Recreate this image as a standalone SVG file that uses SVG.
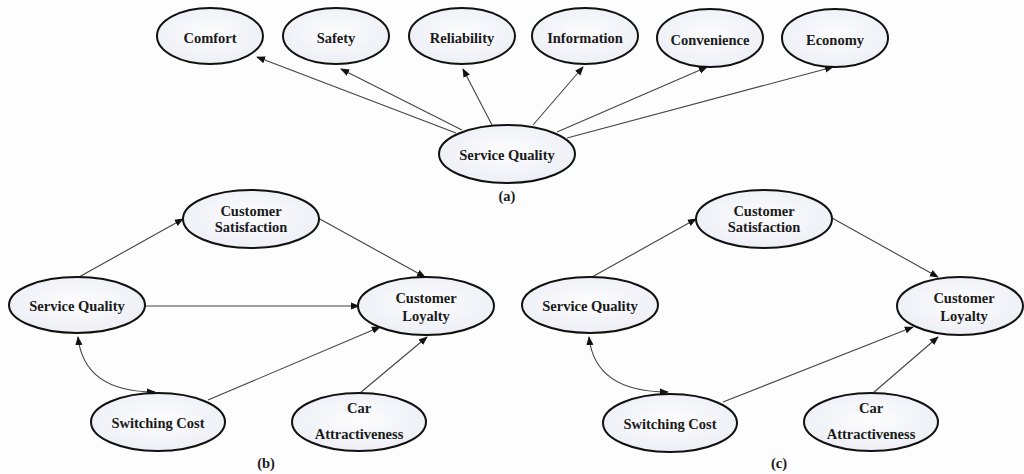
<svg xmlns="http://www.w3.org/2000/svg" width="1024" height="474" viewBox="0 0 1024 474">
  <defs>
    <radialGradient id="nodeFill" cx="50%" cy="45%" r="60%">
      <stop offset="0" stop-color="#fdfdfe"/>
      <stop offset="1" stop-color="#eceef5"/>
    </radialGradient>
    <marker id="arrow" viewBox="0 0 10 10" refX="9" refY="5" markerWidth="9" markerHeight="9" markerUnits="userSpaceOnUse" orient="auto">
      <path d="M0,1 L10,5 L0,9 z" fill="#111"/>
    </marker>
    <marker id="arrowStart" viewBox="0 0 10 10" refX="1" refY="5" markerWidth="9" markerHeight="9" markerUnits="userSpaceOnUse" orient="auto">
      <path d="M10,1 L0,5 L10,9 z" fill="#111"/>
    </marker>
  </defs>
  <style>
    .node ellipse { fill: url(#nodeFill); stroke: #111; stroke-width: 2; }
    .node text, .caption { font-family: 'Liberation Serif', 'Times New Roman', serif; font-weight: bold; font-size: 14.5px; fill: #1a1a1a; text-anchor: middle; }
    .edge { fill: none; stroke: #444; stroke-width: 1.1; }
    .arr { marker-end: url(#arrow); }
    .both { marker-start: url(#arrowStart); marker-end: url(#arrow); }
  </style>
  <rect width="1024" height="474" fill="#fdfdfd"/>

  <!-- connectors -->
  <g id="connectors">
    <!-- (a) service quality dimensions -->
    <line class="edge arr" x1="456" y1="133" x2="257" y2="57"/>
    <line class="edge arr" x1="462" y1="130" x2="341" y2="69"/>
    <line class="edge arr" x1="492" y1="125" x2="463" y2="69"/>
    <line class="edge arr" x1="533" y1="125" x2="583" y2="67"/>
    <line class="edge arr" x1="557" y1="132" x2="707" y2="67"/>
    <line class="edge arr" x1="567" y1="138" x2="833" y2="67"/>
    <!-- (b) -->
    <line class="edge arr" x1="79" y1="277" x2="183" y2="219"/>
    <line class="edge arr" x1="318" y1="218" x2="425" y2="277"/>
    <line class="edge arr" x1="145" y1="306" x2="359" y2="306"/>
    <path class="edge both" d="M78,337 Q84,392 155,392"/>
    <line class="edge arr" x1="208" y1="400" x2="380" y2="327"/>
    <line class="edge arr" x1="360" y1="393" x2="427" y2="337"/>
    <!-- (c) -->
    <line class="edge arr" x1="592" y1="277" x2="696" y2="219"/>
    <line class="edge arr" x1="832" y1="218" x2="938" y2="277"/>
    <path class="edge both" d="M589,337 Q595,392 668,392"/>
    <line class="edge arr" x1="723" y1="402" x2="913" y2="327"/>
    <line class="edge arr" x1="873" y1="393" x2="938" y2="337"/>
  </g>

  <!-- (a) nodes -->
  <g id="a-comfort" class="node"><ellipse cx="210" cy="36" rx="53" ry="28"/><text x="210" y="43">Comfort</text></g>
  <g id="a-safety" class="node"><ellipse cx="336" cy="36" rx="53" ry="28"/><text x="336" y="43">Safety</text></g>
  <g id="a-reliability" class="node"><ellipse cx="462" cy="36" rx="53" ry="28"/><text x="462" y="43">Reliability</text></g>
  <g id="a-information" class="node"><ellipse cx="585" cy="36" rx="53" ry="28"/><text x="585" y="43">Information</text></g>
  <g id="a-convenience" class="node"><ellipse cx="710" cy="38" rx="53" ry="29"/><text x="710" y="45">Convenience</text></g>
  <g id="a-economy" class="node"><ellipse cx="835" cy="38" rx="53" ry="29"/><text x="835" y="45">Economy</text></g>
  <g id="a-service-quality" class="node"><ellipse cx="507" cy="154" rx="68" ry="29"/><text x="507" y="160">Service Quality</text></g>
  <text class="caption" x="507" y="201">(a)</text>

  <!-- (b) nodes -->
  <g id="b-satisfaction" class="node"><ellipse cx="251" cy="219" rx="68" ry="29"/><text x="251" y="216">Customer</text><text x="251" y="232">Satisfaction</text></g>
  <g id="b-service-quality" class="node"><ellipse cx="77" cy="305" rx="68" ry="28"/><text x="77" y="311">Service Quality</text></g>
  <g id="b-loyalty" class="node"><ellipse cx="426" cy="306" rx="68" ry="29"/><text x="426" y="303">Customer</text><text x="426" y="321">Loyalty</text></g>
  <g id="b-switching-cost" class="node"><ellipse cx="158" cy="422" rx="67" ry="29"/><text x="158" y="428">Switching Cost</text></g>
  <g id="b-car" class="node"><ellipse cx="359" cy="422" rx="67" ry="29"/><text x="359" y="413">Car</text><text x="359" y="439">Attractiveness</text></g>
  <text class="caption" x="266" y="468">(b)</text>

  <!-- (c) nodes -->
  <g id="c-satisfaction" class="node"><ellipse cx="764" cy="219" rx="68" ry="29"/><text x="764" y="216">Customer</text><text x="764" y="232">Satisfaction</text></g>
  <g id="c-service-quality" class="node"><ellipse cx="590" cy="305" rx="68" ry="28"/><text x="590" y="311">Service Quality</text></g>
  <g id="c-loyalty" class="node"><ellipse cx="960" cy="306" rx="63" ry="29"/><text x="964" y="303">Customer</text><text x="964" y="321">Loyalty</text></g>
  <g id="c-switching-cost" class="node"><ellipse cx="670" cy="423" rx="67" ry="29"/><text x="670" y="429">Switching Cost</text></g>
  <g id="c-car" class="node"><ellipse cx="871" cy="422" rx="67" ry="29"/><text x="871" y="413">Car</text><text x="871" y="439">Attractiveness</text></g>
  <text class="caption" x="779" y="468">(c)</text>
</svg>
